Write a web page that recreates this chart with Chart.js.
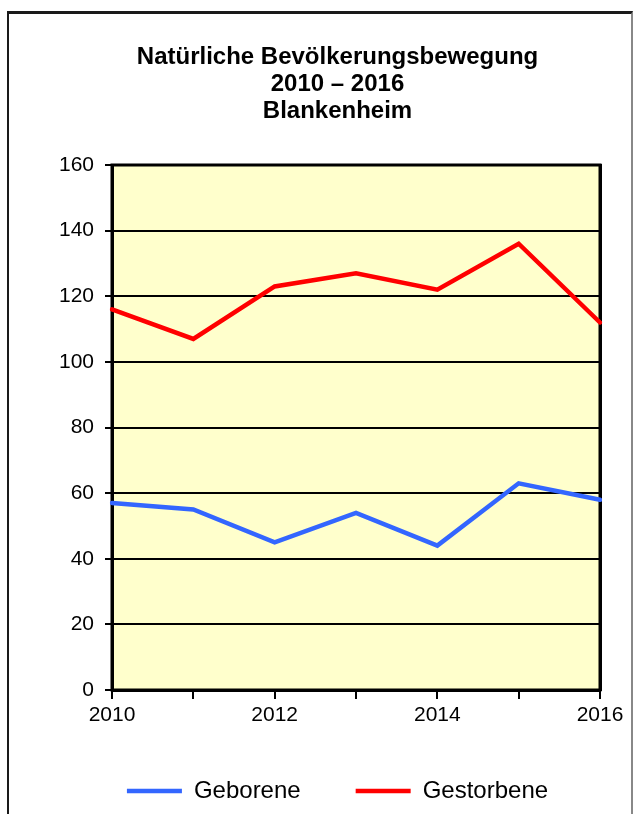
<!DOCTYPE html>
<html lang="de">
<head>
    <meta charset="UTF-8"/>
    <title>Natürliche Bevölkerungsbewegung</title>
    <style>
        body { margin: 0; background: #fff; }
        #rahmen {
            position: absolute;
            left: 7px; top: 11px;
            width: 622px; height: 900px;
            border-top: 3px solid #1a1a1a;
            border-left: 2px solid #1a1a1a;
            border-right: 2px solid #888;
        }
        #wrap { position: absolute; left: 0; top: 0; width: 639px; height: 814px; }
    </style>
    <script src="https://cdn.jsdelivr.net/npm/chart.js"></script>
</head>
<body>
    <div id="rahmen"></div>
    <div id="wrap">
        <canvas id="myChart" width="639" height="814"></canvas>
    </div>
    <script>
        var jahre = ['2010', '2011', '2012', '2013', '2014', '2015', '2016'];
        var geborene = [57, 55, 45, 54, 44, 63, 58];
        var gestorbene = [116, 107, 123, 127, 122, 136, 112];
        var titelZeilen = ['Natürliche Bevölkerungsbewegung', '2010 – 2016', 'Blankenheim'];
        var yTicks = [0, 20, 40, 60, 80, 100, 120, 140, 160];

        var schrift = "'Liberation Sans', Arial, sans-serif";

        // gelber Hintergrund + Rahmen der Zeichenfläche
        var plotFlaeche = {
            id: 'plotFlaeche',
            beforeDraw: function(chart) {
                var a = chart.chartArea, ctx = chart.ctx;
                ctx.save();
                ctx.fillStyle = '#FFFFCC';
                ctx.fillRect(a.left, a.top, a.right - a.left, a.bottom - a.top);
                ctx.restore();
            },
            beforeDatasetsDraw: function(chart) {
                var a = chart.chartArea, ctx = chart.ctx;
                ctx.save();
                ctx.strokeStyle = '#000';
                ctx.lineWidth = 3;
                ctx.strokeRect(a.left, a.top, a.right - a.left, a.bottom - a.top);
                ctx.restore();
            }
        };

        var ctx = document.getElementById('myChart').getContext('2d');
        var myChart = new Chart(ctx, {
            type: 'line',
            data: {
                labels: jahre,
                datasets: [{
                    label: 'Geborene',
                    data: geborene,
                    borderColor: '#3366FF',
                    backgroundColor: '#3366FF',
                    borderWidth: 4.5,
                    borderCapStyle: 'round',
                    pointRadius: 0,
                    tension: 0
                }, {
                    label: 'Gestorbene',
                    data: gestorbene,
                    borderColor: '#FF0000',
                    backgroundColor: '#FF0000',
                    borderWidth: 4.5,
                    borderCapStyle: 'round',
                    pointRadius: 0,
                    tension: 0
                }]
            },
            options: {
                responsive: false,
                animation: false,
                layout: { padding: { left: 36, right: 0, top: 0, bottom: 1 } },
                plugins: {
                    tooltip: { enabled: false },
                    title: {
                        display: true,
                        text: titelZeilen,
                        color: '#000',
                        font: { family: schrift, size: 24, weight: 'bold', lineHeight: 1.125 },
                        padding: { top: 43.5, bottom: 40.5 }
                    },
                    legend: {
                        position: 'bottom',
                        labels: {
                            color: '#000',
                            font: { family: schrift, size: 24 },
                            usePointStyle: true,
                            pointStyle: 'line',
                            pointStyleWidth: 55,
                            padding: 55
                        }
                    }
                },
                scales: {
                    x: {
                        type: 'category',
                        offset: false,
                        border: { display: true, color: '#000', width: 3 },
                        // lange Tick-Zone, aber nur 7px sichtbar
                        grid: {
                            drawOnChartArea: false,
                            drawTicks: true,
                            tickLength: 16,
                            tickBorderDash: [7, 60],
                            color: '#000',
                            lineWidth: 2
                        },
                        ticks: {
                            autoSkip: false,
                            maxRotation: 0,
                            color: '#000',
                            padding: 0,
                            font: { family: schrift, size: 21, lineHeight: 0.857 },
                            callback: function(value, index) {
                                return index % 2 === 0 ? jahre[index] : '';
                            }
                        }
                    },
                    y: {
                        min: 0,
                        max: 160,
                        afterFit: function(scale) { scale.width = 76; },
                        afterBuildTicks: function(scale) {
                            scale.ticks = yTicks.map(function(v) { return { value: v }; });
                        },
                        border: { display: true, color: '#000', width: 3 },
                        grid: { color: '#000', lineWidth: 2, tickLength: 7 },
                        ticks: {
                            color: '#000',
                            padding: 11,
                            font: { family: schrift, size: 21 }
                        }
                    },
                    // rechte Achse nur als Rahmenlinie
                    y2: {
                        position: 'right',
                        min: 0,
                        max: 160,
                        afterFit: function(scale) { scale.width = 39; },
                        border: { display: true, color: '#000', width: 3 },
                        grid: { drawOnChartArea: false, drawTicks: false },
                        ticks: { display: false }
                    }
                }
            },
            plugins: [plotFlaeche]
        });
    </script>
</body>
</html>
